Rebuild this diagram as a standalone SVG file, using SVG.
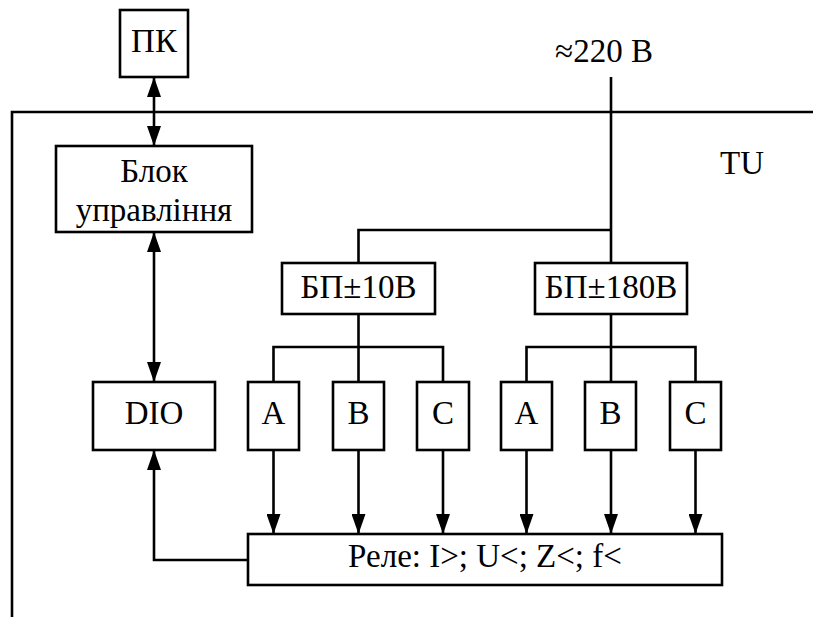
<svg xmlns="http://www.w3.org/2000/svg" width="813" height="617" viewBox="0 0 813 617">
<style>
.box{fill:#fff;stroke:#000;stroke-width:2.6}
.ln{fill:none;stroke:#000;stroke-width:2.6}
text{font-family:'Liberation Serif','Times New Roman','DejaVu Serif',serif;font-size:33px;fill:#000;text-anchor:middle}
</style>
<defs>
<marker id="ah" markerUnits="userSpaceOnUse" markerWidth="20" markerHeight="14" refX="20" refY="7" orient="auto-start-reverse">
<path d="M0,0 L20,7 L0,14 z" fill="#000"/>
</marker>
</defs>
<rect width="813" height="617" fill="#fff"/>
<g id="connectors">
<path class="ln" d="M12,617 V112 H813"/>
<line class="ln" x1="154" y1="77" x2="154" y2="146" marker-start="url(#ah)" marker-end="url(#ah)"/>
<line class="ln" x1="154" y1="232" x2="154" y2="382" marker-start="url(#ah)" marker-end="url(#ah)"/>
<path class="ln" d="M248,560 H154 V450" marker-end="url(#ah)"/>
<line class="ln" x1="611" y1="77" x2="611" y2="263"/>
<path class="ln" d="M611,230 H358.5 V263"/>
<line class="ln" x1="358.5" y1="314" x2="358.5" y2="382"/>
<path class="ln" d="M273.5,382 V347 H443 V382"/>
<line class="ln" x1="611" y1="314" x2="611" y2="382"/>
<path class="ln" d="M526.5,382 V347 H695.5 V382"/>
<line class="ln" x1="273.5" y1="450" x2="273.5" y2="534" marker-end="url(#ah)"/>
<line class="ln" x1="358.5" y1="450" x2="358.5" y2="534" marker-end="url(#ah)"/>
<line class="ln" x1="443" y1="450" x2="443" y2="534" marker-end="url(#ah)"/>
<line class="ln" x1="526.5" y1="450" x2="526.5" y2="534" marker-end="url(#ah)"/>
<line class="ln" x1="611" y1="450" x2="611" y2="534" marker-end="url(#ah)"/>
<line class="ln" x1="695.5" y1="450" x2="695.5" y2="534" marker-end="url(#ah)"/>
</g>
<g id="pk"><rect class="box" x="120" y="10" width="68" height="67"/><text x="154" y="52">ПК</text></g>
<g id="blok"><rect class="box" x="56" y="146" width="196" height="86"/><text x="154" y="182">Блок</text><text x="154" y="221">управління</text></g>
<g id="dio"><rect class="box" x="93" y="382" width="122" height="68"/><text x="154" y="424">DIO</text></g>
<g id="bp10"><rect class="box" x="282" y="263" width="153" height="51"/><text x="358.5" y="298">БП±10В</text></g>
<g id="bp180"><rect class="box" x="535" y="263" width="152" height="51"/><text x="611" y="298">БП±180В</text></g>
<g id="a1"><rect class="box" x="248" y="382" width="51" height="68"/><text x="273.5" y="424">A</text></g>
<g id="b1"><rect class="box" x="333" y="382" width="51" height="68"/><text x="358.5" y="424">B</text></g>
<g id="c1"><rect class="box" x="417" y="382" width="52" height="68"/><text x="443" y="424">C</text></g>
<g id="a2"><rect class="box" x="501" y="382" width="51" height="68"/><text x="526.5" y="424">A</text></g>
<g id="b2"><rect class="box" x="585" y="382" width="51" height="68"/><text x="610.5" y="424">B</text></g>
<g id="c2"><rect class="box" x="670" y="382" width="51" height="68"/><text x="695.5" y="424">C</text></g>
<g id="rele"><rect class="box" x="248" y="534" width="474" height="51"/><text x="485" y="567">Реле: I&gt;; U&lt;; Z&lt;; f&lt;</text></g>
<g id="labels"><text x="604" y="62">≈220 В</text><text x="742" y="174">TU</text></g>
</svg>
